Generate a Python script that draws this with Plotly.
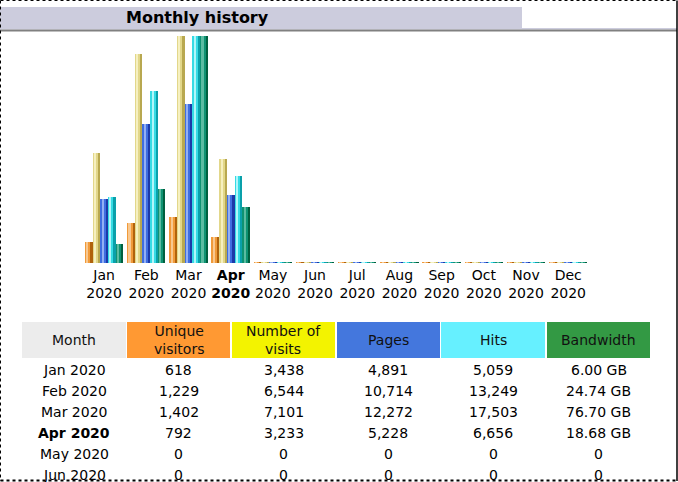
import plotly.graph_objects as go

# ---------------- data ----------------
months = ["Jan", "Feb", "Mar", "Apr", "May", "Jun", "Jul", "Aug", "Sep", "Oct", "Nov", "Dec"]
year = "2020"
current_month = "Apr"
visitors = [618, 1229, 1402, 792, 0, 0, 0, 0, 0, 0, 0, 0]
visits = [3438, 6544, 7101, 3233, 0, 0, 0, 0, 0, 0, 0, 0]
pages = [4891, 10714, 12272, 5228, 0, 0, 0, 0, 0, 0, 0, 0]
hits = [5059, 13249, 17503, 6656, 0, 0, 0, 0, 0, 0, 0, 0]
bandwidth_gb = [6.00, 24.74, 76.70, 18.68, 0, 0, 0, 0, 0, 0, 0, 0]
table_rows_shown = 6

headers = ["Month", "Unique<br>visitors", "Number of<br>visits", "Pages", "Hits", "Bandwidth"]

W, H = 678, 482
FONT = "DejaVu Sans"


def px(x):
    return x / W


def py(y):
    return 1 - y / H


# ---------------- bars ----------------
# (values, axis, dark edge, mid, highlight)
series = [
    (visitors, "y", "#b0620c", "#f09a3a", "#f8c890"),
    (visits, "y", "#b8a850", "#e2d78a", "#f6f0c0"),
    (pages, "y2", "#1c3aa8", "#3f6ee0", "#93b0f4"),
    (hits, "y2", "#0aa0aa", "#36dbe4", "#b0f6fa"),
    (bandwidth_gb, "y3", "#00603f", "#0f9272", "#5cbca2"),
]
axis_max = {"y": max(visitors + visits), "y2": max(pages + hits), "y3": max(bandwidth_gb)}
PLOT_PX = 227.0

fig = go.Figure()
bw = 0.182
for i, (vals, ax, dark, mid, light) in enumerate(series):
    o = -0.455 + i * bw
    base = -axis_max[ax] / PLOT_PX
    for off, wid, col in [(o, bw, dark), (o, bw * 0.72, mid), (o + bw * 0.18, bw * 0.28, light)]:
        fig.add_trace(go.Bar(
            x=months, y=[v - base for v in vals], base=base, yaxis=ax,
            offset=off, width=wid, marker=dict(color=col, line=dict(width=0)),
            showlegend=False, hoverinfo="skip",
        ))

ticktext = [(f"<b>{m}<br>{year}</b>" if m == current_month else f"{m}<br>{year}") for m in months]

x0, x1 = 83.0, 589.3
y_top, y_bot = 36.0, 263.0
dom_y = [py(y_bot), py(y_top)]

fig.update_layout(
    width=W, height=H, margin=dict(l=0, r=0, t=0, b=0),
    paper_bgcolor="white", plot_bgcolor="white",
    barmode="overlay", bargap=0,
    font=dict(family=FONT, size=14, color="#000000"),
    xaxis=dict(domain=[px(x0), px(x1)], type="category", categoryorder="array",
               categoryarray=months, tickvals=months, ticktext=ticktext,
               range=[-0.5, 11.5], showgrid=False, showline=False, zeroline=False,
               ticks="", tickfont=dict(family=FONT, size=14, color="#000000"),
               ticklabelstandoff=2,
               automargin=False, fixedrange=True),
    yaxis=dict(domain=dom_y, range=[-axis_max["y"] / PLOT_PX, axis_max["y"]], visible=False,
               fixedrange=True),
    yaxis2=dict(domain=dom_y, range=[-axis_max["y2"] / PLOT_PX, axis_max["y2"]], visible=False,
                overlaying="y", fixedrange=True),
    yaxis3=dict(domain=dom_y, range=[-axis_max["y3"] / PLOT_PX, axis_max["y3"]], visible=False,
                overlaying="y", fixedrange=True),
)

shapes = []
annotations = []


def rect(xa, ya, xb, yb, color):
    shapes.append(dict(type="rect", xref="paper", yref="paper", x0=px(xa), x1=px(xb),
                       y0=py(yb), y1=py(ya), fillcolor=color, line=dict(width=0), layer="below"))


def line(xa, ya, xb, yb, color, width, dash="solid"):
    shapes.append(dict(type="line", xref="paper", yref="paper", x0=px(xa), x1=px(xb),
                       y0=py(ya), y1=py(yb), line=dict(color=color, width=width, dash=dash)))


def text(x, y, s, size=14, bold=False, anchor="center", color="#000000"):
    annotations.append(dict(xref="paper", yref="paper", x=px(x), y=py(y), text=(f"<b>{s}</b>" if bold else s),
                            showarrow=False, xanchor=anchor, yanchor="middle",
                            font=dict(family=FONT, size=size, color=color)))


# title bar
rect(0, 7, 522, 28, "#ccccdd")
rect(0, 28, 677, 29.5, "#ccccdd")
line(0, 30.5, 677, 30.5, "#808080", 2)
text(124, 18, "Monthly history", size=16, bold=True, anchor="left")

# table header
col_bounds = [(22, 126), (127, 230), (232, 335), (337, 440), (441, 545), (547, 650)]
col_colors = ["#ececec", "#ff9933", "#f3f300", "#4477dd", "#66f0ff", "#339944"]
for (a, b), c, h in zip(col_bounds, col_colors, headers):
    rect(a, 322, b, 358, c)
    text((a + b) / 2, 340, h, color="#111111")

row_y0, row_step = 369.5, 21.0


def fmt_int(v):
    return f"{v:,}"


def fmt_bw(v):
    return f"{v:.2f} GB" if v else "0"


for r in range(table_rows_shown):
    yy = row_y0 + r * row_step
    cells = [f"{months[r]} {year}", fmt_int(visitors[r]), fmt_int(visits[r]),
             fmt_int(pages[r]), fmt_int(hits[r]), fmt_bw(bandwidth_gb[r])]
    for ci, ((a, b), s) in enumerate(zip(col_bounds, cells)):
        text((a + b) / 2, yy, s, bold=(ci == 0 and months[r] == current_month))

# page border
line(0.5, 0.5, 677, 0.5, "#000000", 1, "dot")
line(0.5, 0.5, 0.5, 481, "#000000", 1, "dot")
line(0.5, 480.5, 677, 480.5, "#000000", 2, "dot")
line(677, 0.5, 677, 481, "#000000", 1.5)

fig.update_layout(shapes=shapes, annotations=annotations)

fig.write_html("out.html", config={"displayModeBar": False, "staticPlot": True},
               post_script="document.body.style.margin='0';document.body.style.overflow='hidden';")
